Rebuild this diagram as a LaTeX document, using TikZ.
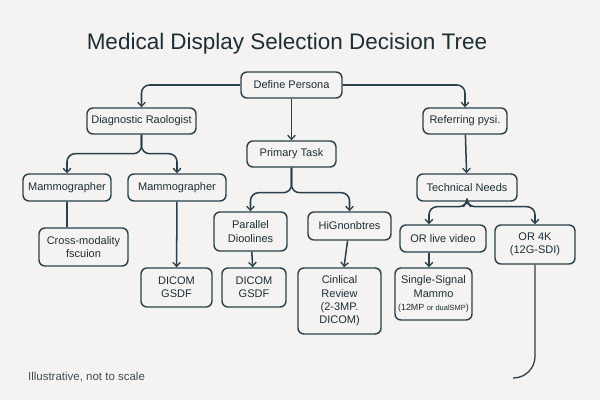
\documentclass[tikz,border=0pt]{standalone}
\usepackage{fontspec}
\setmainfont{Liberation Sans}
\usepackage{tikz}
\usetikzlibrary{arrows.meta}
\tikzset{>={Straight Barb[length=3.5pt,width=6.5pt,line width=1.1pt]}}
\definecolor{bgcol}{HTML}{F4F3F1}
\definecolor{inkcol}{HTML}{2A404C}
\definecolor{txtcol}{HTML}{1D2E37}
\tikzset{
    box/.style={draw=inkcol, line width=1.2pt, fill=bgcol, rounded corners=1.8mm,
        align=center, text=txtcol, inner sep=0pt,
        font=\fontsize{9.4}{11.3}\selectfont},
    elbow/.style={to path={-| (\tikztotarget)}},
    fork/.style={to path={-- ++(0,#1) -| (\tikztotarget)}}
}

\begin{document}
\begin{tikzpicture}[x=0.03cm,y=-0.03cm]
    \fill[bgcol] (0,0) rectangle (600,400);
    \useasboundingbox (0,0) rectangle (600,400);
    \node[text=txtcol,font=\fontsize{19.2}{22}\selectfont] at (287,44) (a1f03c2e) {Medical Display Selection Decision Tree};
    \node[box,minimum width=3.03cm,minimum height=0.78cm] at (291.5,85) (5e8b12d4) {Define Persona};
    \node[box,minimum width=3.27cm,minimum height=0.78cm] at (141.5,121) (c27d90a1) {Diagnostic Raologist};
    \node[box,minimum width=2.52cm,minimum height=0.78cm] at (465,121) (9f4a6b3e) {Referring pysi.};
    \node[box,minimum width=2.67cm,minimum height=0.78cm] at (291.5,154) (0d6e7c85) {Primary Task};
    \node[box,minimum width=2.64cm,minimum height=0.81cm] at (67,187.5) (7b31e2fa) {Mammographer};
    \node[box,minimum width=2.94cm,minimum height=0.81cm] at (177,187.5) (e4c08d19) {Mammographer};
    \node[box,minimum width=3.0cm,minimum height=0.81cm] at (467,187.5) (38fa5b07) {Technical Needs};
    \node[box,minimum width=2.67cm,minimum height=1.14cm] at (83.5,247) (b6d2e471) {Cross-modality\\fscuion};
    \node[box,minimum width=2.19cm,minimum height=1.17cm] at (250.5,231.5) (41c9a8e3) {Parallel\\Dioolines};
    \node[box,minimum width=2.49cm,minimum height=0.84cm] at (349.5,226) (d8e05f2b) {HiGnonbtres};
    \node[box,minimum width=2.58cm,minimum height=0.81cm] at (443,238.5) (6a7f31c0) {OR live video};
    \node[box,minimum width=2.4cm,minimum height=1.17cm] at (535,244.5) (f25b84d6) {OR 4K\\(12G-SDI)};
    \node[box,minimum width=2.13cm,minimum height=1.17cm] at (176.5,287.5) (13e9c7a4) {DICOM\\GSDF};
    \node[box,minimum width=1.92cm,minimum height=1.17cm] at (254,287.5) (8c4d2f69) {DICOM\\GSDF};
    \node[box,minimum width=2.49cm,minimum height=1.98cm] at (339.5,301) (2fb7e058) {Cinlical\\Review\\(2-3MP.\\DICOM)};
    \node[box,minimum width=2.31cm,minimum height=1.56cm] at (433.5,294) (97ac1d3b) {Single-Signal\\Mammo\\{\fontsize{7.6}{9}\selectfont(12MP {\fontsize{6.4}{9}\selectfont or dualSMP})}};
    \node[anchor=west,text=txtcol!85!white,font=\fontsize{9.8}{12}\selectfont] at (24,377) (5c0e9a72) {Illustrative, not to scale};
    \coordinate (e17b4a90) at ([xshift=-4.2mm]6a7f31c0.north);
    \coordinate (0c93f5d8) at ([xshift=-4.2mm]6a7f31c0.south);
    \coordinate (a84d26c1) at (513,378);
    \path[->, draw=inkcol, line width=1.3pt, rounded corners=2.4mm]
    (5e8b12d4.west) edge [elbow] (c27d90a1.north)
    (5e8b12d4.east) edge [elbow] (9f4a6b3e.north)
    (5e8b12d4) edge (0d6e7c85)
    (c27d90a1.south) edge [fork=19] (7b31e2fa.north)
    (c27d90a1.south) edge [fork=19] (e4c08d19.north)
    (9f4a6b3e) edge (38fa5b07)
    (e4c08d19) edge (13e9c7a4)
    (0d6e7c85.south) edge [fork=25] (41c9a8e3.north)
    (0d6e7c85.south) edge [fork=25] (d8e05f2b.north)
    (41c9a8e3) edge (8c4d2f69)
    (d8e05f2b) edge (2fb7e058)
    (38fa5b07.south) edge [fork=5] (e17b4a90)
    (38fa5b07.south) edge [fork=5] (f25b84d6.north)
    ;
    \draw[->, draw=inkcol, line width=1.3pt] (0c93f5d8) -- (0c93f5d8 |- 97ac1d3b.north);
    \draw[draw=inkcol, line width=1.3pt] (7b31e2fa.south) -- (7b31e2fa.south |- b6d2e471.north);
    \draw[draw=inkcol, line width=1.1pt, rounded corners=6.5mm] (f25b84d6.south) |- (a84d26c1);
\end{tikzpicture}
\end{document}
